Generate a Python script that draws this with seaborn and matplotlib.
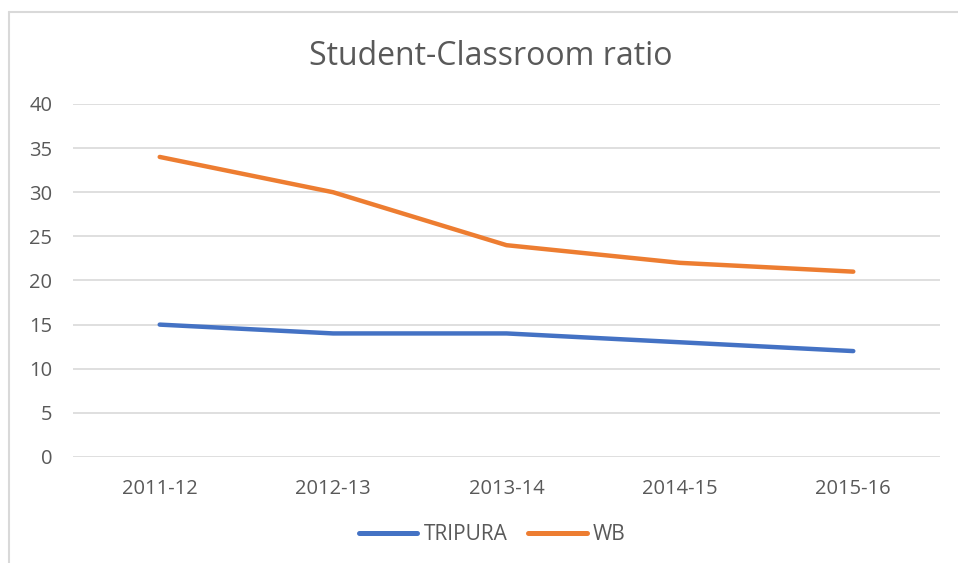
import pandas as pd
import seaborn as sns
import matplotlib
matplotlib.use("Agg")
import matplotlib.pyplot as plt
from matplotlib.lines import Line2D

# Dados do gráfico
anos = ["2011-12", "2012-13", "2013-14", "2014-15", "2015-16"]
tripura = [15, 14, 14, 13, 12]
wb = [34, 30, 24, 22, 21]
series = ["TRIPURA", "WB"]
cores = ["#4472C4", "#ED7D31"]

df = pd.DataFrame({
    "ano": anos * 2,
    "valor": tripura + wb,
    "estado": [series[0]] * len(anos) + [series[1]] * len(anos),
})

sns.set_theme(style="white")
plt.rcParams["font.family"] = ["Open Sans", "DejaVu Sans"]
cinza = "#595959"

fig = plt.figure(figsize=(9.58, 5.63), dpi=100)
ax = fig.add_axes([0.0762, 0.1883, 0.9050, 0.6270])

sns.lineplot(data=df, x="ano", y="valor", hue="estado", palette=cores,
             linewidth=3.2, sort=False, ax=ax, legend=False)

ax.set_xlim(-0.5, len(anos) - 0.5)
ax.set_ylim(0, 40)
ax.set_yticks(range(0, 41, 5))
ax.yaxis.grid(True, color="#D9D9D9", linewidth=1.2)
ax.set_axisbelow(True)
for s in ax.spines.values():
    s.set_visible(False)
ax.set_xlabel("")
ax.set_ylabel("")
ax.tick_params(axis="both", length=0, labelsize=14.5, colors=cinza)
ax.tick_params(axis="y", pad=15)
ax.tick_params(axis="x", pad=16)

fig.text(0.512, 0.900, "Student-Classroom ratio", ha="center", va="center",
         fontsize=23, color=cinza)

handles = [Line2D([0], [0], color=c, linewidth=3.6, solid_capstyle="round") for c in cores]
fig.legend(handles, series, loc="center", bbox_to_anchor=(0.514, 0.050), ncol=2,
           frameon=False, fontsize=15, labelcolor=cinza, handlelength=2.8,
           handletextpad=0.3, columnspacing=1.0)

# Borda da área do gráfico (recortada à direita e embaixo)
fig.add_artist(Line2D([0.0094, 1.0], [0.979, 0.979], transform=fig.transFigure,
                      color="#D9D9D9", linewidth=1.5))
fig.add_artist(Line2D([0.0094, 0.0094], [0.0, 0.979], transform=fig.transFigure,
                      color="#D9D9D9", linewidth=1.5))

fig.savefig("out.png", dpi=100)
